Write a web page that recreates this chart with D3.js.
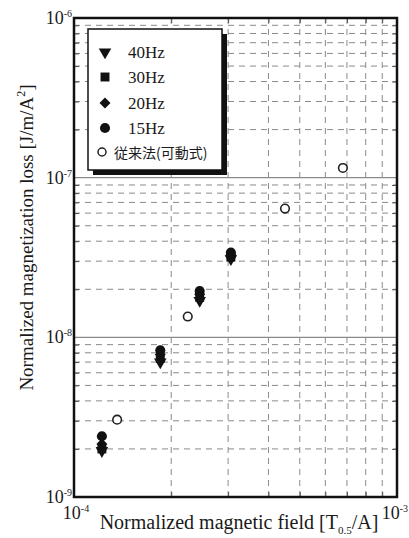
<!DOCTYPE html>
<html>
<head>
<meta charset="utf-8">
<script src="https://d3js.org/d3.v7.min.js"></script>
<style>
  body { margin: 0; background: #fff; }
  text { font-family: "Liberation Serif", "DejaVu Serif", serif; fill: #1a1a1a; }
</style>
</head>
<body>
<svg id="chart"></svg>
<script>
// data
const seriesNames = ["40Hz", "30Hz", "20Hz", "15Hz", "従来法(可動式)"];
const fieldNew = [1.22e-4, 1.85e-4, 2.45e-4, 3.06e-4];
const loss40 = [1.95e-9, 7.0e-9, 1.70e-8, 3.10e-8];
const loss30 = [2.0e-9, 7.4e-9, 1.78e-8, 3.18e-8];
const loss20 = [2.15e-9, 7.8e-9, 1.86e-8, 3.28e-8];
const loss15 = [2.4e-9, 8.3e-9, 1.95e-8, 3.40e-8];
const fieldOld = [1.36e-4, 2.25e-4, 4.5e-4, 6.8e-4];
const lossOld = [3.05e-9, 1.35e-8, 6.4e-8, 1.15e-7];
const xDecades = [-4, -3];
const yDecades = [-9, -8, -7, -6];

const width = 409, height = 538;
const margin = { top: 18, right: 12, bottom: 41, left: 74 };

const svg = d3.select("#chart").attr("width", width).attr("height", height);

const x = d3.scaleLog().domain([1e-4, 1e-3]).range([margin.left, width - margin.right]);
const y = d3.scaleLog().domain([1e-9, 1e-6]).range([height - margin.bottom, margin.top]);

// minor values 2..9 in each decade
const xMinor = [];
for (let k = 2; k < 10; k++) xMinor.push(k * 1e-4);
const yMinor = [];
[-9, -8, -7].forEach(e => { for (let k = 2; k < 10; k++) yMinor.push(k * Math.pow(10, e)); });

const grid = svg.append("g");
grid.selectAll("line.vx").data(xMinor).enter().append("line")
    .attr("x1", d => x(d)).attr("x2", d => x(d))
    .attr("y1", y.range()[1]).attr("y2", y.range()[0])
    .attr("stroke", "#8a8a8a").attr("stroke-width", 1).attr("stroke-dasharray", "6,5");
grid.selectAll("line.hy").data(yMinor).enter().append("line")
    .attr("x1", x.range()[0]).attr("x2", x.range()[1])
    .attr("y1", d => y(d)).attr("y2", d => y(d))
    .attr("stroke", "#8a8a8a").attr("stroke-width", 1).attr("stroke-dasharray", "6,5");
grid.selectAll("line.major").data([1e-8, 1e-7]).enter().append("line")
    .attr("x1", x.range()[0]).attr("x2", x.range()[1])
    .attr("y1", d => y(d)).attr("y2", d => y(d))
    .attr("stroke", "#8a8a8a").attr("stroke-width", 1.2);

// inner ticks on all four sides
const tickLen = 5;
svg.append("g").attr("transform", `translate(${margin.left},0)`)
    .call(d3.axisRight(y).tickValues(yMinor).tickSize(tickLen).tickFormat(""))
    .call(g => g.select(".domain").remove());
svg.append("g").attr("transform", `translate(${width - margin.right},0)`)
    .call(d3.axisLeft(y).tickValues(yMinor).tickSize(tickLen).tickFormat(""))
    .call(g => g.select(".domain").remove());
svg.append("g").attr("transform", `translate(0,${height - margin.bottom})`)
    .call(d3.axisTop(x).tickValues(xMinor).tickSize(tickLen).tickFormat(""))
    .call(g => g.select(".domain").remove());
svg.append("g").attr("transform", `translate(0,${margin.top})`)
    .call(d3.axisBottom(x).tickValues(xMinor).tickSize(tickLen).tickFormat(""))
    .call(g => g.select(".domain").remove());
svg.selectAll(".tick line").attr("stroke", "#555");

// frame
svg.append("rect")
    .attr("x", margin.left).attr("y", margin.top)
    .attr("width", x.range()[1] - x.range()[0])
    .attr("height", y.range()[0] - y.range()[1])
    .attr("fill", "none").attr("stroke", "#111").attr("stroke-width", 2.5);

// tick labels 10^n
function powLabel(g, px, py, e, anchor) {
  const t = g.append("text").attr("x", px).attr("y", py)
      .attr("text-anchor", anchor).style("font-size", "18px");
  t.append("tspan").text("10");
  t.append("tspan").attr("dy", -7).style("font-size", "10px").text(String(e));
}
const lab = svg.append("g");
yDecades.forEach(e => powLabel(lab, margin.left - 2, y(Math.pow(10, e)) + 6, e, "end"));
powLabel(lab, x(1e-4) + 2, height - margin.bottom + 22, -4, "middle");
powLabel(lab, 408, height - margin.bottom + 22, -3, "end");

// axis titles
svg.append("text")
    .attr("transform", `translate(33,${(margin.top + height - margin.bottom) / 2 - 20}) rotate(-90)`)
    .attr("text-anchor", "middle").style("font-size", "19px")
    .call(t => {
      t.append("tspan").text("Normalized magnetization loss [J/m/A");
      t.append("tspan").attr("dy", -8).style("font-size", "12px").text("2");
      t.append("tspan").attr("dy", 8).text("]");
    });
svg.append("text")
    .attr("x", 239).attr("y", 529)
    .attr("text-anchor", "middle").style("font-size", "20px")
    .call(t => {
      t.append("tspan").text("Normalized magnetic field [T");
      t.append("tspan").attr("dy", 5).style("font-size", "11px").text("0.5");
      t.append("tspan").attr("dy", -5).text("/A]");
    });

// markers
const symSize = 80;
const shapes = {
  "40Hz": d3.symbol().type(d3.symbolTriangle).size(symSize * 0.85),
  "30Hz": d3.symbol().type(d3.symbolSquare).size(symSize),
  "20Hz": d3.symbol().type(d3.symbolSquare).size(symSize * 0.75),
  "15Hz": d3.symbol().type(d3.symbolCircle).size(symSize)
};
const rotateFor = name => name === "40Hz" ? " rotate(180)" : name === "20Hz" ? " rotate(45)" : "";

const filled = [
  { name: "15Hz", vals: loss15 },
  { name: "20Hz", vals: loss20 },
  { name: "30Hz", vals: loss30 },
  { name: "40Hz", vals: loss40 }
];
const pts = svg.append("g");
filled.forEach(s => {
  pts.selectAll(null).data(fieldNew.map((f, i) => [f, s.vals[i]])).enter().append("path")
      .attr("d", shapes[s.name]())
      .attr("transform", d => `translate(${x(d[0])},${y(d[1])})${rotateFor(s.name)}`)
      .attr("fill", "#111");
});
pts.selectAll(null).data(fieldOld.map((f, i) => [f, lossOld[i]])).enter().append("circle")
    .attr("cx", d => x(d[0])).attr("cy", d => y(d[1])).attr("r", 4.3)
    .attr("fill", "#fff").attr("stroke", "#222").attr("stroke-width", 1.6);

// legend with drop shadow
const lg = svg.append("g");
const lx = 88, ly = 29, lw = 134, lh = 141;
lg.append("rect").attr("x", lx + 5).attr("y", ly + 5).attr("width", lw).attr("height", lh).attr("fill", "#111");
lg.append("rect").attr("x", lx).attr("y", ly).attr("width", lw).attr("height", lh)
    .attr("fill", "#fff").attr("stroke", "#111").attr("stroke-width", 1.5);
const rowY = [52, 77, 103, 128, 152];
seriesNames.forEach((name, i) => {
  const cy = ly + rowY[i] - 29;
  if (shapes[name]) {
    lg.append("path").attr("d", shapes[name]())
        .attr("transform", `translate(105,${cy})${rotateFor(name)}`).attr("fill", "#111");
    lg.append("text").attr("x", 128).attr("y", cy + 6).style("font-size", "17px").text(name);
  } else {
    lg.append("circle").attr("cx", 102).attr("cy", cy).attr("r", 4)
        .attr("fill", "#fff").attr("stroke", "#222").attr("stroke-width", 1.5);
    lg.append("text").attr("x", 114).attr("y", cy + 5.5)
        .style("font-family", "'Noto Sans CJK JP', sans-serif").style("font-size", "14px").text(name);
  }
});
</script>
</body>
</html>
